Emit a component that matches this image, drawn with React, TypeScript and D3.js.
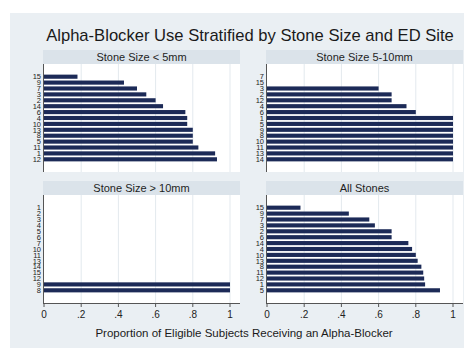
import React from "react";
import * as d3 from "d3";

const title = "Alpha-Blocker Use Stratified by Stone Size and ED Site";
const xTitle = "Proportion of Eligible Subjects Receiving an Alpha-Blocker";
const xTicks = [0, 0.2, 0.4, 0.6, 0.8, 1];
const xTickLabels = ["0", ".2", ".4", ".6", ".8", "1"];

const panelTitles = ["Stone Size < 5mm", "Stone Size 5-10mm", "Stone Size > 10mm", "All Stones"];

const sitesSmall = ["15", "9", "7", "3", "2", "14", "6", "4", "10", "13", "8", "5", "11", "1", "12"];
const valuesSmall = [0.18, 0.43, 0.5, 0.55, 0.6, 0.64, 0.76, 0.77, 0.77, 0.8, 0.8, 0.8, 0.83, 0.92, 0.93];

const sitesMedium = ["7", "15", "3", "2", "12", "4", "6", "1", "5", "9", "8", "10", "11", "13", "14"];
const valuesMedium = [0, 0, 0.6, 0.67, 0.67, 0.75, 0.8, 1, 1, 1, 1, 1, 1, 1, 1];

const sitesLarge = ["1", "2", "3", "4", "5", "6", "7", "10", "11", "13", "14", "15", "12", "9", "8"];
const valuesLarge = [0, 0, 0, 0, 0, 0, 0, 0, 0, 0, 0, 0, 0, 1, 1];

const sitesAll = ["15", "9", "7", "3", "2", "6", "14", "4", "10", "13", "8", "11", "12", "1", "5"];
const valuesAll = [0.18, 0.44, 0.55, 0.58, 0.67, 0.67, 0.76, 0.78, 0.8, 0.81, 0.83, 0.84, 0.845, 0.85, 0.93];

const BG = "#eaeff3";
const STRIP = "#dbe3ea";
const GRID = "#e3e9ee";
const BAR = "#1c2a57";
const FONT = "'Liberation Sans', Arial, Helvetica, sans-serif";

type PanelProps = {
  x0: number;
  x1: number;
  y0: number;
  y1: number;
  stripTop: number;
  label: string;
  sites: string[];
  values: number[];
  showAxis: boolean;
};

function Panel({ x0, x1, y0, y1, stripTop, label, sites, values, showAxis }: PanelProps) {
  const x = d3.scaleLinear().domain([0, 1]).range([x0 + 1, x0 + 187]);
  const y = d3
    .scaleBand<string>()
    .domain(sites.map((_, i) => String(i)))
    .range([y0, y1])
    .paddingInner(0.3)
    .paddingOuter(1.8);
  return (
    <g>
      <rect x={x0} y={stripTop} width={x1 - x0} height={y0 - stripTop} fill={STRIP} />
      <text
        x={(x0 + x1) / 2}
        y={(stripTop + y0) / 2 + 4}
        textAnchor="middle"
        fontSize={11}
        fontFamily={FONT}
        fill="#1e1e1e"
      >
        {label}
      </text>
      <rect x={x0} y={y0} width={x1 - x0} height={y1 - y0} fill="#ffffff" />
      {xTicks.slice(1).map((t) => (
        <line key={t} x1={x(t)} x2={x(t)} y1={y0} y2={y1} stroke={GRID} strokeWidth={1} />
      ))}
      {values.map((v, i) => {
        const yy = y(String(i)) as number;
        return v > 0 ? (
          <rect key={i} x={x(0)} y={yy} width={x(v) - x(0)} height={y.bandwidth()} fill={BAR} />
        ) : null;
      })}
      {sites.map((s, i) => (
        <text
          key={"l" + i}
          x={x0 - 2}
          y={(y(String(i)) as number) + y.bandwidth() / 2 + 2.7}
          textAnchor="end"
          fontSize={7.5}
          fontFamily={FONT}
          fill="#222"
        >
          {s}
        </text>
      ))}
      <line x1={x0 + 0.5} x2={x0 + 0.5} y1={y0} y2={y1} stroke="#555" strokeWidth={1} />
      {showAxis && (
        <g>
          <line x1={x0} x2={x1} y1={y1 + 0.5} y2={y1 + 0.5} stroke="#555" strokeWidth={1} />
          {xTicks.map((t, i) => (
            <g key={"t" + i}>
              <line x1={x(t)} x2={x(t)} y1={y1} y2={y1 + 4} stroke="#555" strokeWidth={1} />
              <text
                x={x(t)}
                y={y1 + 15}
                textAnchor="middle"
                fontSize={10}
                fontFamily={FONT}
                fill="#222"
              >
                {xTickLabels[i]}
              </text>
            </g>
          ))}
        </g>
      )}
    </g>
  );
}

export default function App() {
  const W = 464;
  const H = 348;
  const left = { x0: 43, x1: 240 };
  const right = { x0: 266, x1: 463 };
  const top = { strip: 50, y0: 64, y1: 172 };
  const bottom = { strip: 181, y0: 195, y1: 303 };
  return (
    <svg
      width={W}
      height={H}
      style={{ position: "absolute", left: 0, top: 0 }}
      xmlns="http://www.w3.org/2000/svg"
    >
      <rect x={0} y={0} width={W} height={H} fill="#ffffff" />
      <rect x={10} y={13} width={W - 10} height={H - 13} fill={BG} />
      <text x={250} y={41} textAnchor="middle" fontSize={16.6} fontFamily={FONT} fill="#1a1a1a">
        {title}
      </text>
      <Panel x0={left.x0} x1={left.x1} y0={top.y0} y1={top.y1} stripTop={top.strip} label={panelTitles[0]} sites={sitesSmall} values={valuesSmall} showAxis={false} />
      <Panel x0={right.x0} x1={right.x1} y0={top.y0} y1={top.y1} stripTop={top.strip} label={panelTitles[1]} sites={sitesMedium} values={valuesMedium} showAxis={false} />
      <Panel x0={left.x0} x1={left.x1} y0={bottom.y0} y1={bottom.y1} stripTop={bottom.strip} label={panelTitles[2]} sites={sitesLarge} values={valuesLarge} showAxis={true} />
      <Panel x0={right.x0} x1={right.x1} y0={bottom.y0} y1={bottom.y1} stripTop={bottom.strip} label={panelTitles[3]} sites={sitesAll} values={valuesAll} showAxis={true} />
      <text x={244} y={337} textAnchor="middle" fontSize={11.5} fontFamily={FONT} fill="#1a1a1a">
        {xTitle}
      </text>
    </svg>
  );
}
